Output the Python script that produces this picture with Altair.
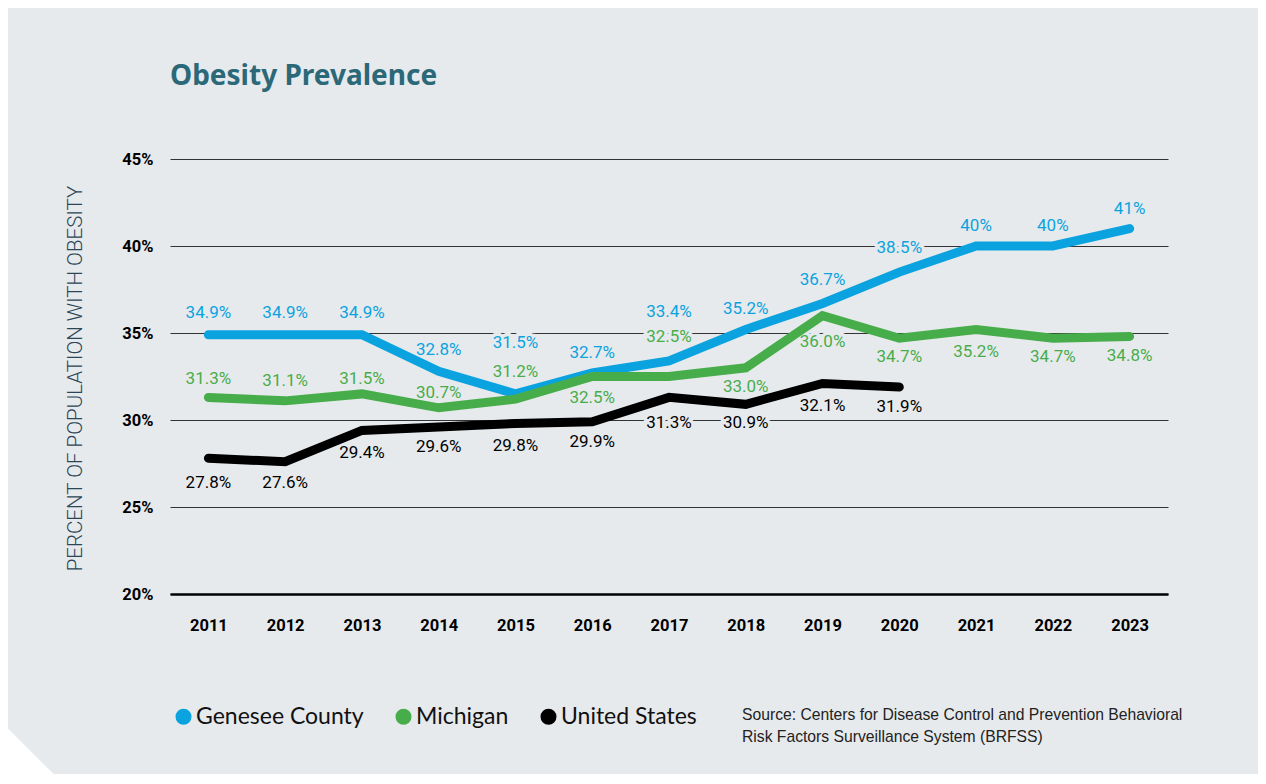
import altair as alt
import pandas as pd

# ---------------- data ----------------
YEARS = ["2011", "2012", "2013", "2014", "2015", "2016", "2017",
         "2018", "2019", "2020", "2021", "2022", "2023"]
SERIES = ["Genesee County", "Michigan", "United States"]

GENESEE = [34.9, 34.9, 34.9, 32.8, 31.5, 32.7, 33.4, 35.2, 36.7, 38.5, 40, 40, 41]
MICHIGAN = [31.3, 31.1, 31.5, 30.7, 31.2, 32.5, 32.5, 33.0, 36.0, 34.7, 35.2, 34.7, 34.8]
US = [27.8, 27.6, 29.4, 29.6, 29.8, 29.9, 31.3, 30.9, 32.1, 31.9]

# label placement (pixel offsets of each value label from its point)
GENESEE_DY = [-22, -22, -22, -21, -51, -20, -49, -21, -23, -24, -20, -20, -20]
MICHIGAN_DY = [-18, -20, -15, -15, -27, 21, -40, 19, 26, 19, 22, 19, 20]
US_DY = [25, 21, 23, 20, 23, 20, 26, 19, 23, 20]

TITLE = "Obesity Prevalence"
Y_TITLE = "PERCENT OF POPULATION WITH OBESITY"
SOURCE = ["Source: Centers for Disease Control and Prevention Behavioral",
          "Risk Factors Surveillance System (BRFSS)"]

BG = "#e7eaed"
COLORS = ["#0ba3df", "#47ad4b", "#000000"]
COND = "Roboto"
PLOT_H = 435
Y_MIN, Y_MAX = 20, 45


def fmt(v):
    return f"{v}%" if isinstance(v, int) else f"{v:.1f}%"


rows = []
for name, vals, dys in [(SERIES[0], GENESEE, GENESEE_DY),
                        (SERIES[1], MICHIGAN, MICHIGAN_DY),
                        (SERIES[2], US, US_DY)]:
    for yr, v, dy in zip(YEARS, vals, dys):
        rows.append({"series": name, "year": yr, "value": float(v),
                     "label": fmt(v), "dy": dy})
df = pd.DataFrame(rows)

x_enc = alt.X("year:O", title=None, sort=YEARS,
              axis=alt.Axis(labelAngle=0, labelFont=COND, labelFontWeight="bold",
                            labelFontSize=16.5, labelColor="#000", labelPadding=23,
                            ticks=False, tickSize=0, domain=True, domainColor="#000",
                            domainWidth=2.5, grid=False))
y_axis = alt.Axis(values=[20, 25, 30, 35, 40, 45], labelExpr="datum.value + '%'",
                  labelFont=COND, labelFontWeight="bold", labelFontSize=16.5,
                  labelColor="#000", labelPadding=17, ticks=False, tickSize=0,
                  domain=False, grid=True, gridColor="#333", gridWidth=1,
                  title=Y_TITLE, titleFont="Roboto", titleFontWeight=300,
                  titleFontSize=20.5, titleColor="#2c4557", titleAngle=270,
                  titleX=-95, titleY=219, titleAlign="center",
                  titleBaseline="middle")
y_scale = alt.Scale(domain=[Y_MIN, Y_MAX], nice=False, zero=False)
y_enc = alt.Y("value:Q", scale=y_scale, axis=y_axis)
ly_enc = alt.Y("label_y:Q", scale=y_scale, axis=y_axis)
color_scale = alt.Scale(domain=SERIES, range=COLORS)

base = alt.Chart(df)
label_base = base.transform_calculate(
    label_y=f"datum.value - datum.dy * {(Y_MAX - Y_MIN) / PLOT_H}")

halo = label_base.mark_text(font=COND, fontSize=17, stroke=BG, strokeWidth=7,
                            fill=BG, strokeJoin="round").encode(
    x=x_enc, y=ly_enc, text="label:N")

lines = base.mark_line(strokeWidth=9, strokeCap="round").encode(
    x=x_enc, y=y_enc,
    color=alt.Color("series:N", scale=color_scale,
                    legend=alt.Legend(title=None, orient="none", legendX=2, legendY=546,
                                      direction="horizontal", symbolType="circle",
                                      symbolSize=64, symbolStrokeWidth=8,
                                      labelFont="Lato", labelFontSize=23,
                                      labelColor="#111", labelOffset=1,
                                      columnPadding=19, labelLimit=400)),
    detail="series:N")

labels = label_base.mark_text(font=COND, fontSize=17).encode(
    x=x_enc, y=ly_enc, text="label:N",
    color=alt.Color("series:N", scale=color_scale, legend=None))

title_layer = alt.Chart(pd.DataFrame({"t": [TITLE]})).mark_text(
    font="Noto Sans", fontWeight="bold", fontSize=28, color="#2b6878",
    align="left", baseline="middle").encode(
    x=alt.value(0), y=alt.value(-82), text="t:N")

source_layer = alt.Chart(pd.DataFrame({"t": ["\n".join(SOURCE)]})).mark_text(
    font="Liberation Sans", fontSize=15.7, color="#222", align="left",
    baseline="middle", lineBreak="\n", lineHeight=22).encode(
    x=alt.value(572), y=alt.value(556), text="t:N")

corner = alt.Chart(pd.DataFrame({"t": [1]})).mark_point(
    shape="M -1 -1 L 1 1 L -1 1 Z", filled=True, color="white", opacity=1,
    size=3136, strokeWidth=0).encode(x=alt.value(-134.5), y=alt.value(597))

chart = alt.layer(halo, lines, labels, title_layer, source_layer, corner).properties(
    width=998, height=PLOT_H,
    padding={"left": 162, "top": 151, "right": 90, "bottom": 180},
    autosize=alt.AutoSizeParams(type="none"),
    background=BG,
).configure_view(stroke=None)

chart.save("out.html", embed_options={"renderer": "svg", "actions": False})
